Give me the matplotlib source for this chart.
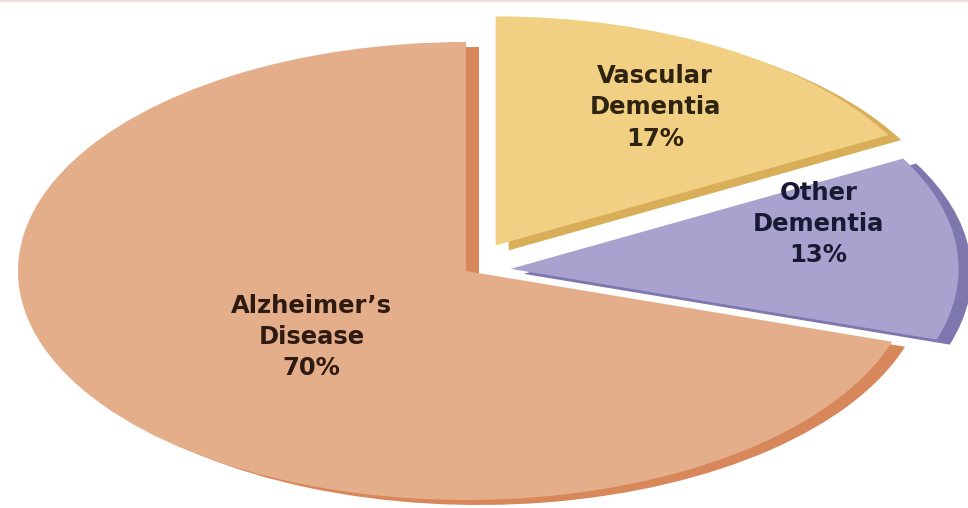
import matplotlib
matplotlib.use("Agg")
import numpy as np
import matplotlib.pyplot as plt

# slices listed counter-clockwise from 12 o'clock
categories = ["Alzheimer\u2019s\nDisease", "Other\nDementia", "Vascular\nDementia"]
shares = [70, 13, 17]
explode = [0.0, 0.10, 0.13]

top_colors = ["#E4AE8A", "#A9A2CF", "#F1D083"]
rim_colors = ["#D8875A", "#7E77AE", "#D9AE58"]
text_colors = ["#2E1A10", "#1A1934", "#2E2210"]
label_r = [0.45, 0.715, 0.70]
label_dtheta = [4, 10.5, 0]

# flattened pie geometry in pixels (figure is 968 x 508)
W, H = 968, 508
CX, CY = 466, 271      # centre, measured from the top-left corner
RX, RY = 448, 229      # semi-axes
DEPTH = (13, 5)        # offset of the darker rim below the top face


def main():
    fig = plt.figure(figsize=(W / 100, H / 100), dpi=100)
    ax = fig.add_axes([0, 0, 1, 1])

    rim_center = (DEPTH[0] / RX, -DEPTH[1] / RY)
    ax.pie(shares, explode=explode, colors=rim_colors, startangle=90,
           center=rim_center, wedgeprops=dict(linewidth=0))
    wedges, _ = ax.pie(shares, explode=explode, colors=top_colors,
                       startangle=90, wedgeprops=dict(linewidth=0))

    for w, name, share, r, dt, c in zip(wedges, categories, shares,
                                        label_r, label_dtheta, text_colors):
        ang = np.deg2rad((w.theta1 + w.theta2) / 2 + dt)
        x = w.center[0] + r * np.cos(ang)
        y = w.center[1] + r * np.sin(ang)
        ax.text(x, y, f"{name}\n{share}%", ha="center", va="center",
                fontsize=17.5, fontweight="bold", family="DejaVu Sans",
                linespacing=1.38, color=c)

    ax.set_aspect("auto")
    ax.set_xlim(-CX / RX, (W - CX) / RX)
    ax.set_ylim(-(H - CY) / RY, CY / RY)
    ax.axis("off")

    # faint pink rule along the top edge, as in the source image
    fig.add_artist(plt.Line2D([0, 1], [0.998, 0.998], color="#F6DADA", lw=1.5,
                              transform=fig.transFigure))

    fig.savefig("out.png", dpi=100, facecolor="white")
    plt.close(fig)


if __name__ == "__main__":
    main()
